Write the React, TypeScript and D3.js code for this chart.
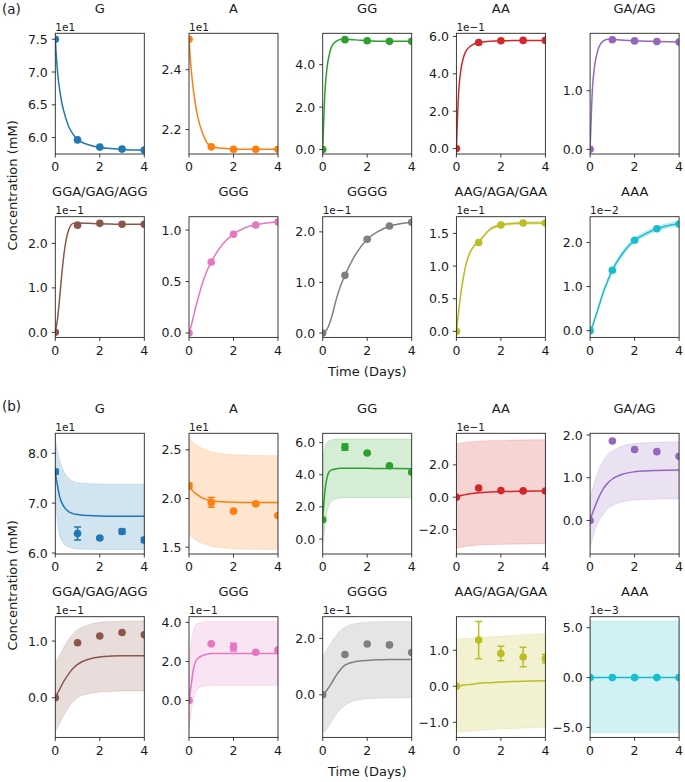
import React from "react";
import * as d3 from "d3";

// ---------- data ----------
const SPECIES = ["G", "A", "GG", "AA", "GA/AG", "GGA/GAG/AGG", "GGG", "GGGG", "AAG/AGA/GAA", "AAA"];
const COLORS = ["#1f77b4", "#ff7f0e", "#2ca02c", "#d62728", "#9467bd", "#8c564b", "#e377c2", "#7f7f7f", "#bcbd22", "#17becf"];
const DAYS = [0, 1, 2, 3, 4];
const CURVE_T = [0, 0.1, 0.2, 0.3, 0.4, 0.6, 0.8, 1, 1.5, 2, 2.5, 3, 4];
const X_TICKS = [0, 2, 4];

// panel (a): values in displayed units (after offset factor)
const A_OFFSET = ["1e1", "1e1", "", "1e\u22121", "", "1e\u22121", "", "1e\u22121", "1e\u22121", "1e\u22122"];
const A_YLIM = [[5.75, 7.59], [2.118, 2.522], [-0.21, 5.48], [-0.29, 6.17], [-0.08, 1.98], [-0.113, 2.6], [-0.043, 1.13], [-0.087, 2.3], [-0.092, 1.756], [-0.153, 2.585]];
const A_TICKS = [[6.0, 6.5, 7.0, 7.5], [2.2, 2.4], [0, 2, 4], [0, 2, 4, 6], [0, 1], [0, 1, 2], [0, 0.5, 1.0], [0, 1, 2], [0, 0.5, 1.0, 1.5], [0, 1, 2]];
const A_POINTS = [
  [7.5, 5.965, 5.855, 5.825, 5.81],
  [2.502, 2.142, 2.134, 2.134, 2.134],
  [0, 5.18, 5.13, 5.1, 5.1],
  [0, 5.68, 5.77, 5.79, 5.79],
  [0, 1.87, 1.85, 1.84, 1.83],
  [0, 2.41, 2.45, 2.43, 2.43],
  [0, 0.69, 0.96, 1.05, 1.078],
  [0, 1.14, 1.855, 2.115, 2.19],
  [0, 1.36, 1.63, 1.66, 1.66],
  [0, 1.37, 2.05, 2.31, 2.42],
];
const A_CURVE = [
  [7.5, 7.0, 6.72, 6.52, 6.38, 6.17, 6.05, 5.97, 5.89, 5.85, 5.835, 5.82, 5.81],
  [2.502, 2.4, 2.33, 2.28, 2.24, 2.19, 2.157, 2.143, 2.137, 2.135, 2.134, 2.134, 2.134],
  [0, 2.7, 3.9, 4.5, 4.85, 5.1, 5.19, 5.2, 5.17, 5.13, 5.11, 5.1, 5.1],
  [0, 3.0, 4.2, 4.8, 5.15, 5.45, 5.6, 5.68, 5.74, 5.77, 5.78, 5.79, 5.79],
  [0, 1.0, 1.42, 1.62, 1.75, 1.85, 1.88, 1.875, 1.86, 1.85, 1.845, 1.84, 1.83],
  [0, 0.3, 0.8, 1.35, 1.8, 2.3, 2.45, 2.46, 2.45, 2.44, 2.435, 2.43, 2.43],
  [0, 0.07, 0.16, 0.25, 0.33, 0.48, 0.6, 0.69, 0.86, 0.96, 1.02, 1.05, 1.08],
  [0, 0.02, 0.08, 0.18, 0.31, 0.65, 0.93, 1.14, 1.57, 1.855, 2.01, 2.11, 2.19],
  [0, 0.3, 0.58, 0.8, 0.98, 1.2, 1.31, 1.37, 1.56, 1.63, 1.65, 1.66, 1.66],
  [0, 0.1, 0.25, 0.4, 0.56, 0.88, 1.14, 1.37, 1.78, 2.05, 2.2, 2.31, 2.43],
];
const A_BAND_LO = [null, null, null, null, null, null, null, null,
  [0, 0.29, 0.56, 0.78, 0.96, 1.18, 1.29, 1.35, 1.54, 1.61, 1.63, 1.64, 1.64],
  [0, 0.09, 0.23, 0.37, 0.52, 0.84, 1.09, 1.32, 1.73, 2.0, 2.15, 2.26, 2.38],
];
const A_BAND_HI = [null, null, null, null, null, null, null, null,
  [0, 0.31, 0.6, 0.82, 1.0, 1.22, 1.33, 1.39, 1.58, 1.65, 1.67, 1.68, 1.68],
  [0, 0.11, 0.27, 0.43, 0.6, 0.92, 1.19, 1.42, 1.83, 2.1, 2.25, 2.36, 2.48],
];

// panel (b)
const B_OFFSET = ["1e1", "1e1", "", "1e\u22121", "", "1e\u22121", "1e\u22121", "1e\u22121", "", "1e\u22123"];
const B_YLIM = [[5.98, 8.4], [1.43, 2.67], [-0.93, 6.58], [-3.51, 3.95], [-0.785, 2.04], [-0.7, 1.43], [-1.89, 4.29], [-1.51, 2.77], [-1.42, 1.93], [-6.0, 6.11]];
const B_TICKS = [[6, 7, 8], [1.5, 2.0, 2.5], [0, 2, 4, 6], [-2, 0, 2], [0, 1, 2], [0, 1], [0, 2, 4], [0, 2], [-1, 0, 1], [-5, 0, 5]];
const B_POINTS = [
  [7.63, 6.39, 6.3, 6.43, 6.26],
  [2.13, 1.96, 1.87, 1.945, 1.825],
  [1.2, 5.72, 5.35, 4.56, 4.15],
  [0, 0.57, 0.41, 0.39, 0.38],
  [0, 1.86, 1.66, 1.61, 1.5],
  [0, 0.97, 1.09, 1.15, 1.11],
  [0, 2.9, 2.73, 2.47, 2.58],
  [0, 1.43, 1.8, 1.77, 1.5],
  [0, 1.28, 0.91, 0.81, 0.77],
  [0, 0, 0, 0, 0],
];
const B_ERR = [
  [0.05, 0.13, 0.02, 0.05, 0.05],
  [0.03, 0.05, 0.01, 0.01, 0.01],
  [0.05, 0.2, 0.05, 0.05, 0.05],
  [0, 0, 0, 0, 0],
  [0, 0, 0, 0, 0],
  [0, 0, 0, 0, 0],
  [0, 0.05, 0.2, 0.07, 0.05],
  [0, 0, 0, 0, 0],
  [0, 0.52, 0.2, 0.27, 0.12],
  [0, 0, 0, 0, 0],
];
const B_CURVE = [
  [7.6, 7.35, 7.12, 7.0, 6.92, 6.83, 6.79, 6.77, 6.75, 6.74, 6.735, 6.735, 6.735],
  [2.12, 2.095, 2.07, 2.05, 2.035, 2.005, 1.99, 1.977, 1.966, 1.962, 1.96, 1.96, 1.96],
  [1.2, 3.0, 3.85, 4.2, 4.3, 4.37, 4.4, 4.4, 4.4, 4.4, 4.39, 4.39, 4.38],
  [0, 0.05, 0.1, 0.13, 0.16, 0.21, 0.25, 0.28, 0.32, 0.35, 0.36, 0.37, 0.38],
  [0, 0.16, 0.3, 0.43, 0.55, 0.75, 0.88, 0.97, 1.09, 1.14, 1.16, 1.17, 1.18],
  [0, 0.08, 0.15, 0.23, 0.3, 0.42, 0.52, 0.59, 0.68, 0.72, 0.735, 0.74, 0.74],
  [0, 0.8, 1.6, 2.0, 2.15, 2.3, 2.37, 2.4, 2.4, 2.4, 2.4, 2.4, 2.4],
  [0, 0.08, 0.18, 0.29, 0.42, 0.68, 0.9, 1.05, 1.18, 1.22, 1.24, 1.25, 1.25],
  [0, 0.01, 0.02, 0.03, 0.035, 0.05, 0.065, 0.08, 0.1, 0.12, 0.13, 0.14, 0.15],
  [0, 0, 0, 0, 0, 0, 0, 0, 0, 0, 0, 0, 0],
];
const B_BAND_LO = [
  [7.2, 6.6, 6.35, 6.24, 6.17, 6.12, 6.09, 6.08, 6.075, 6.07, 6.07, 6.07, 6.07],
  [1.63, 1.61, 1.59, 1.575, 1.56, 1.54, 1.525, 1.51, 1.495, 1.485, 1.48, 1.478, 1.475],
  [-0.5, 0.8, 1.7, 2.15, 2.35, 2.5, 2.55, 2.56, 2.56, 2.56, 2.56, 2.56, 2.56],
  [-3.15, -3.12, -3.09, -3.06, -3.04, -3.01, -2.98, -2.96, -2.93, -2.91, -2.9, -2.89, -2.87],
  [-0.65, -0.43, -0.25, -0.11, 0.0, 0.15, 0.28, 0.35, 0.44, 0.48, 0.49, 0.5, 0.51],
  [-0.6, -0.52, -0.45, -0.37, -0.3, -0.17, -0.07, 0.0, 0.07, 0.1, 0.11, 0.12, 0.12],
  [-1.5, -0.6, 0.1, 0.45, 0.6, 0.72, 0.76, 0.77, 0.77, 0.77, 0.77, 0.77, 0.77],
  [-1.35, -1.28, -1.18, -1.06, -0.94, -0.7, -0.5, -0.37, -0.2, -0.14, -0.12, -0.11, -0.1],
  [-1.28, -1.27, -1.265, -1.26, -1.255, -1.245, -1.235, -1.225, -1.21, -1.19, -1.175, -1.16, -1.145],
  [-5.5, -5.5, -5.5, -5.5, -5.5, -5.5, -5.5, -5.5, -5.5, -5.5, -5.5, -5.5, -5.5],
];
const B_BAND_HI = [
  [8.3, 8.05, 7.85, 7.72, 7.62, 7.5, 7.44, 7.41, 7.39, 7.385, 7.38, 7.38, 7.38],
  [2.62, 2.6, 2.575, 2.555, 2.54, 2.515, 2.495, 2.48, 2.46, 2.45, 2.445, 2.442, 2.44],
  [5.1, 5.7, 6.0, 6.12, 6.18, 6.22, 6.22, 6.22, 6.22, 6.22, 6.22, 6.22, 6.22],
  [3.3, 3.32, 3.34, 3.36, 3.38, 3.41, 3.44, 3.46, 3.49, 3.51, 3.53, 3.54, 3.55],
  [0.5, 0.72, 0.9, 1.06, 1.2, 1.4, 1.55, 1.63, 1.75, 1.8, 1.82, 1.83, 1.84],
  [0.6, 0.68, 0.76, 0.83, 0.9, 1.03, 1.13, 1.2, 1.29, 1.33, 1.345, 1.35, 1.36],
  [2.1, 3.0, 3.6, 3.85, 3.95, 4.02, 4.05, 4.05, 4.05, 4.05, 4.05, 4.05, 4.05],
  [1.4, 1.5, 1.62, 1.75, 1.87, 2.1, 2.28, 2.4, 2.53, 2.57, 2.59, 2.6, 2.6],
  [1.3, 1.31, 1.315, 1.32, 1.325, 1.335, 1.345, 1.355, 1.37, 1.39, 1.41, 1.43, 1.45],
  [5.67, 5.67, 5.67, 5.67, 5.67, 5.67, 5.67, 5.67, 5.67, 5.67, 5.67, 5.67, 5.67],
];

// ---------- layout ----------
const W = 685;
const H = 782;
const COL_LEFT0 = 55.3;
const COL_STEP = 133.7;
const AX_W = 89;
const AX_H = 120.7;
const FONT = "DejaVu Sans, Liberation Sans, sans-serif";
const SPINE = "#262626";

const fmt = (v: number) => {
  const s = Math.abs(v) < 1e-9 ? "0.0" : v.toFixed(1);
  return s.replace("-", "\u2212");
};

type SubProps = {
  id: string;
  left: number;
  top: number;
  name: string;
  color: string;
  ylim: number[];
  ticks: number[];
  offset: string;
  points: number[];
  err: number[] | null;
  curve: number[];
  lo: number[] | null;
  hi: number[] | null;
  bandOpacity: number;
};

function Subplot(p: SubProps) {
  const x = d3.scaleLinear().domain([0, 4]).range([p.left, p.left + AX_W]);
  const y = d3.scaleLinear().domain(p.ylim).range([p.top + AX_H, p.top]);
  const line = d3
    .line<number>()
    .x((_, i) => x(CURVE_T[i]))
    .y((d) => y(d))
    .curve(d3.curveMonotoneX);
  let bandPath: string | null = null;
  if (p.lo && p.hi) {
    const lo = p.lo;
    const hi = p.hi;
    const area = d3
      .area<number>()
      .x((_, i) => x(CURVE_T[i]))
      .y0((_, i) => y(lo[i]))
      .y1((_, i) => y(hi[i]))
      .curve(d3.curveMonotoneX);
    bandPath = area(CURVE_T);
  }
  const clipId = `clip-${p.id}`;
  const bottom = p.top + AX_H;
  return (
    <g>
      <defs>
        <clipPath id={clipId}>
          <rect x={p.left} y={p.top} width={AX_W} height={AX_H} />
        </clipPath>
      </defs>
      <g clipPath={`url(#${clipId})`}>
        {bandPath && <path d={bandPath} fill={p.color} fillOpacity={p.bandOpacity} stroke={p.color} strokeOpacity={p.bandOpacity} strokeWidth={0.8} />}
        <path d={line(p.curve) || ""} fill="none" stroke={p.color} strokeWidth={1.5} />
        {p.err &&
          DAYS.map((t, i) =>
            p.err && p.err[i] > 0 ? (
              <g key={`e${i}`} stroke={p.color} strokeWidth={1.5}>
                <line x1={x(t)} x2={x(t)} y1={y(p.points[i] - p.err[i])} y2={y(p.points[i] + p.err[i])} />
                <line x1={x(t) - 3.5} x2={x(t) + 3.5} y1={y(p.points[i] - p.err[i])} y2={y(p.points[i] - p.err[i])} />
                <line x1={x(t) - 3.5} x2={x(t) + 3.5} y1={y(p.points[i] + p.err[i])} y2={y(p.points[i] + p.err[i])} />
              </g>
            ) : null
          )}
        {DAYS.map((t, i) => (
          <circle key={`p${i}`} cx={x(t)} cy={y(p.points[i])} r={3.8} fill={p.color} />
        ))}
      </g>
      <rect x={p.left} y={p.top} width={AX_W} height={AX_H} fill="none" stroke={SPINE} strokeWidth={0.9} />
      {p.ticks.map((v) => (
        <g key={`yt${v}`}>
          <line x1={p.left - 3.5} x2={p.left} y1={y(v)} y2={y(v)} stroke={SPINE} strokeWidth={0.9} />
          <text x={p.left - 7.5} y={y(v)} dy="0.36em" textAnchor="end" fontSize={12.5} fill="#1a1a1a" fontFamily={FONT}>
            {fmt(v)}
          </text>
        </g>
      ))}
      {X_TICKS.map((v) => (
        <g key={`xt${v}`}>
          <line x1={x(v)} x2={x(v)} y1={bottom} y2={bottom + 3.5} stroke={SPINE} strokeWidth={0.9} />
          <text x={x(v)} y={bottom + 17.2} textAnchor="middle" fontSize={12.5} fill="#1a1a1a" fontFamily={FONT}>
            {v}
          </text>
        </g>
      ))}
      {p.offset && (
        <text x={p.left} y={p.top - 2.6} fontSize={10.5} fill="#1a1a1a" fontFamily={FONT}>
          {p.offset}
        </text>
      )}
      <text x={p.left + AX_W / 2} y={p.top - 20.4} textAnchor="middle" fontSize={13} fill="#1a1a1a" fontFamily={FONT}>
        {p.name}
      </text>
    </g>
  );
}

type PanelProps = {
  label: string;
  y0: number;
  labelY: number;
  offsets: string[];
  ylims: number[][];
  ticks: number[][];
  points: number[][];
  errs: (number[] | null)[] | null;
  curves: number[][];
  los: (number[] | null)[];
  his: (number[] | null)[];
  bandOpacity: number;
};

function Panel(p: PanelProps) {
  const rowTops = [p.y0 + 33.3, p.y0 + 216.7];
  const yMid = (rowTops[0] + rowTops[1] + AX_H) / 2;
  return (
    <g>
      <text x={2} y={p.labelY} fontSize={13.5} fill="#1a1a1a" fontFamily={FONT}>
        {p.label}
      </text>
      {SPECIES.map((name, i) => {
        const row = Math.floor(i / 5);
        const col = i % 5;
        return (
          <Subplot
            key={name}
            id={`${p.label.replace(/[()]/g, "")}${i}`}
            left={COL_LEFT0 + col * COL_STEP}
            top={rowTops[row]}
            name={name}
            color={COLORS[i]}
            ylim={p.ylims[i]}
            ticks={p.ticks[i]}
            offset={p.offsets[i]}
            points={p.points[i]}
            err={p.errs ? p.errs[i] : null}
            curve={p.curves[i]}
            lo={p.los[i]}
            hi={p.his[i]}
            bandOpacity={p.bandOpacity}
          />
        );
      })}
      <text
        transform={`translate(16.5,${yMid}) rotate(-90)`}
        textAnchor="middle"
        fontSize={13}
        fill="#1a1a1a"
        fontFamily={FONT}
      >
        Concentration (mM)
      </text>
      <text x={(COL_LEFT0 + COL_LEFT0 + 4 * COL_STEP + AX_W) / 2} y={p.y0 + 376} textAnchor="middle" fontSize={13} fill="#1a1a1a" fontFamily={FONT}>
        Time (Days)
      </text>
    </g>
  );
}

export default function App() {
  return (
    <svg width={W} height={H} viewBox={`0 0 ${W} ${H}`} style={{ position: "absolute", left: 0, top: 0, background: "#fff" }}>
      <rect x={0} y={0} width={W} height={H} fill="#fff" />
      <Panel
        label="(a)"
        y0={0}
        labelY={13.5}
        offsets={A_OFFSET}
        ylims={A_YLIM}
        ticks={A_TICKS}
        points={A_POINTS}
        errs={null}
        curves={A_CURVE}
        los={A_BAND_LO}
        his={A_BAND_HI}
        bandOpacity={0.25}
      />
      <Panel
        label="(b)"
        y0={400}
        labelY={411}
        offsets={B_OFFSET}
        ylims={B_YLIM}
        ticks={B_TICKS}
        points={B_POINTS}
        errs={B_ERR}
        curves={B_CURVE}
        los={B_BAND_LO}
        his={B_BAND_HI}
        bandOpacity={0.2}
      />
    </svg>
  );
}
